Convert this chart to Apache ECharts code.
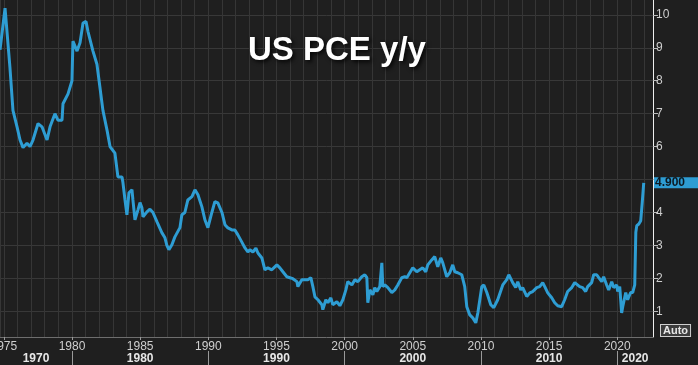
<!DOCTYPE html>
<html>
<head>
<meta charset="utf-8">
<script src="https://cdn.jsdelivr.net/npm/echarts@6/dist/echarts.min.js"></script>
<style>
html,body{margin:0;padding:0;background:#1e1e1e;}
#chart{width:698px;height:365px;}
</style>
</head>
<body>
<div id="chart"></div>
<script>
// Decimal year of each reading
const years = [
1974.72,1975.09,1975.27,1975.45,1975.67,1975.97,1976.19,1976.41,1976.70,1976.92,
1977.14,1977.51,1977.80,1978.17,1978.39,1978.75,1978.97,1979.27,1979.34,1979.71,
1980.00,1980.07,1980.37,1980.59,1980.81,1981.03,1981.17,1981.54,1981.83,1982.05,
1982.27,1982.57,1982.79,1983.15,1983.37,1983.67,1983.74,1983.89,1984.03,1984.18,
1984.40,1984.47,1984.62,1984.84,1984.99,1985.13,1985.21,1985.50,1985.72,1985.94,
1986.23,1986.60,1986.82,1986.96,1987.11,1987.33,1987.55,1987.92,1988.06,1988.28,
1988.50,1988.80,1989.02,1989.24,1989.53,1989.75,1989.97,1990.26,1990.48,1990.70,
1991.00,1991.22,1991.44,1991.73,1991.95,1992.17,1992.46,1992.68,1992.90,1993.05,
1993.27,1993.49,1993.64,1993.93,1994.15,1994.37,1994.66,1994.88,1995.03,1995.25,
1995.47,1995.76,1995.98,1996.20,1996.50,1996.57,1996.86,1997.08,1997.30,1997.52,
1997.67,1997.82,1998.04,1998.33,1998.40,1998.62,1998.77,1998.99,1999.13,1999.43,
1999.65,1999.87,2000.09,2000.23,2000.53,2000.75,2000.97,2001.26,2001.48,2001.63,
2001.70,2001.85,2001.99,2002.07,2002.21,2002.36,2002.58,2002.73,2002.80,2002.95,
2003.17,2003.46,2003.68,2003.90,2004.19,2004.41,2004.56,2004.78,2005.00,2005.29,
2005.51,2005.73,2005.95,2006.10,2006.39,2006.61,2006.83,2007.05,2007.20,2007.49,
2007.71,2007.93,2008.08,2008.30,2008.59,2008.81,2008.96,2009.18,2009.40,2009.62,
2009.77,2010.06,2010.21,2010.43,2010.72,2010.94,2011.23,2011.60,2011.89,2012.04,
2012.33,2012.55,2012.70,2012.92,2013.06,2013.36,2013.58,2013.80,2014.09,2014.31,
2014.53,2014.68,2014.90,2015.19,2015.41,2015.63,2015.92,2016.14,2016.36,2016.66,
2016.88,2017.02,2017.24,2017.46,2017.68,2017.83,2018.12,2018.27,2018.49,2018.64,
2018.86,2019.00,2019.22,2019.37,2019.59,2019.74,2019.96,2020.03,2020.18,2020.32,
2020.40,2020.62,2020.76,2020.98,2021.13,2021.28,2021.36,2021.43,2021.58,2021.72,
2021.83,2021.94
];
// US PCE y/y, %
const pce = [
8.94,10.2,9.3,8.4,7.1,6.6,6.2,5.97,6.1,6.0,
6.2,6.7,6.6,6.2,6.6,7.0,6.8,6.8,7.3,7.6,
8.0,9.2,8.9,9.15,9.75,9.8,9.5,8.9,8.5,7.8,
7.1,6.5,6.0,5.8,5.08,5.08,4.9,4.38,3.93,4.6,
4.69,4.38,3.78,4.08,4.3,4.14,3.87,4.02,4.1,4.0,
3.72,3.38,3.23,3.0,2.87,3.02,3.26,3.54,3.93,4.0,
4.38,4.48,4.69,4.54,4.17,3.78,3.54,4.0,4.33,4.29,
4.0,3.63,3.53,3.47,3.47,3.32,3.1,2.93,2.8,2.87,
2.8,2.92,2.77,2.62,2.26,2.32,2.26,2.35,2.41,2.32,
2.2,2.05,2.02,1.99,1.9,1.75,1.96,1.96,1.96,2.02,
1.75,1.44,1.35,1.2,1.05,1.35,1.26,1.41,1.2,1.29,
1.17,1.35,1.65,1.9,1.8,1.96,1.9,2.05,2.11,2.02,
1.26,1.65,1.6,1.5,1.72,1.6,1.75,2.47,1.75,1.8,
1.72,1.57,1.65,1.8,2.02,2.05,2.02,2.17,2.32,2.2,
2.26,2.32,2.2,2.41,2.56,2.66,2.35,2.62,2.47,2.05,
2.17,2.41,2.2,2.17,2.11,1.75,1.14,0.89,0.8,0.65,
0.95,1.75,1.8,1.57,1.2,1.11,1.35,1.8,1.96,2.11,
1.87,1.72,1.9,1.65,1.72,1.45,1.56,1.6,1.72,1.75,
1.87,1.75,1.56,1.41,1.26,1.17,1.14,1.35,1.6,1.72,
1.87,1.9,1.75,1.72,1.6,1.75,1.87,2.11,2.11,2.02,
1.9,2.05,1.8,1.65,1.9,1.72,1.8,1.6,1.75,0.95,
1.14,1.57,1.35,1.57,1.57,1.8,3.4,3.6,3.65,3.75,
4.3,4.9
];
const yearTicks = [1975,1980,1985,1990,1995,2000,2005,2010,2015,2020];
const decadeStarts = [1970,1980,1990,2000,2010,2020];
const yTicks = [1,2,3,4,5,6,7,8,9,10];
const X_MIN = 1974.72, X_MAX = 2022.62;
const Y_MIN = 0.22, Y_MAX = 10.45;

const seriesData = years.map((y, i) => [y, pce[i]]);
const lastVal = pce[pce.length - 1];
// labels hidden behind the last-value tag
const yLabels = yTicks.filter(v => Math.abs(v - lastVal) > 0.3);
// centre of each visible decade band
const decadeLabelPos = decadeStarts.map(d => (Math.max(X_MIN, d) + Math.min(X_MAX, d + 10)) / 2);
const decadeSeps = decadeStarts.filter(d => d > X_MIN && d < X_MAX);

const LINE = '#2e9dd3';
const LBL = '#cfcfcf';
const SANS = "'Liberation Sans',Arial,sans-serif";

const chart = echarts.init(document.getElementById('chart'), null, {renderer: 'canvas'});
chart.setOption({
  backgroundColor: '#1f1f1f',
  animation: false,
  title: {
    text: 'US PCE y/y',
    left: 243,
    top: 29,
    textStyle: {
      color: '#ffffff',
      fontSize: 33,
      fontWeight: 'bold',
      fontFamily: SANS,
      textShadowColor: 'rgba(0,0,0,0.85)',
      textShadowBlur: 4,
      textShadowOffsetX: 2,
      textShadowOffsetY: 2
    }
  },
  grid: {left: 0, right: 45, top: 0, bottom: 28, containLabel: false, outerBoundsMode: 'none'},
  xAxis: [
    {
      type: 'value', min: X_MIN, max: X_MAX, minInterval: 1, maxInterval: 1,
      axisLine: {show: true, lineStyle: {color: '#6e6e6e', width: 1}},
      axisTick: {show: false},
      axisLabel: {show: false},
      splitLine: {show: true, lineStyle: {color: '#363636', width: 1}}
    },
    {
      type: 'value', min: X_MIN, max: X_MAX, position: 'bottom',
      axisLine: {show: false},
      axisTick: {show: true, customValues: yearTicks, length: 3, lineStyle: {color: '#9a9a9a'}},
      axisLabel: {customValues: yearTicks, margin: 4, color: LBL, fontSize: 12, fontFamily: SANS,
        formatter: v => String(Math.round(v))},
      splitLine: {show: false}
    },
    {
      type: 'value', min: X_MIN, max: X_MAX, position: 'bottom', offset: 14,
      axisLine: {show: false},
      axisTick: {show: true, customValues: decadeSeps, length: 14, lineStyle: {color: '#9a9a9a'}},
      axisLabel: {customValues: decadeLabelPos, margin: 2, color: '#e6e6e6', fontSize: 12, fontWeight: 'bold',
        fontFamily: SANS,
        formatter: v => String(Math.floor(v / 10) * 10)},
      splitLine: {show: false}
    }
  ],
  yAxis: [
    {
      type: 'value', position: 'right', min: Y_MIN, max: Y_MAX,
      axisLine: {show: true, lineStyle: {color: '#eeeeee', width: 1}},
      axisTick: {show: true, customValues: yTicks, length: 5, lineStyle: {color: '#bbbbbb'}},
      axisLabel: {customValues: yLabels, margin: 3, color: LBL, fontSize: 12, fontFamily: SANS},
      splitLine: {show: true, lineStyle: {color: '#383838', width: 1}}
    },
    {
      type: 'value', position: 'right', min: Y_MIN, max: Y_MAX,
      axisLine: {show: false}, axisTick: {show: false}, splitLine: {show: false},
      axisLabel: {
        customValues: [lastVal], margin: 1,
        formatter: v => v.toFixed(3),
        color: '#0d1a22', fontWeight: 'bold', fontSize: 12,
        fontFamily: SANS,
        backgroundColor: LINE, padding: [0, 16, 0, 1], lineHeight: 11
      }
    }
  ],
  graphic: [{
    type: 'text', left: 660, top: 324,
    style: {
      text: 'Auto', fill: '#e6e6e6', font: "bold 11px 'Liberation Sans', Arial",
      backgroundColor: '#3c3c3c', borderColor: '#cfcfcf', borderWidth: 1, padding: [0, 2, 0, 2]
    }
  }],
  series: [{
    type: 'line',
    xAxisIndex: 0, yAxisIndex: 0,
    data: seriesData,
    showSymbol: false,
    symbol: 'none',
    lineStyle: {color: LINE, width: 3},
    itemStyle: {color: LINE}
  }]
});
</script>
</body>
</html>
